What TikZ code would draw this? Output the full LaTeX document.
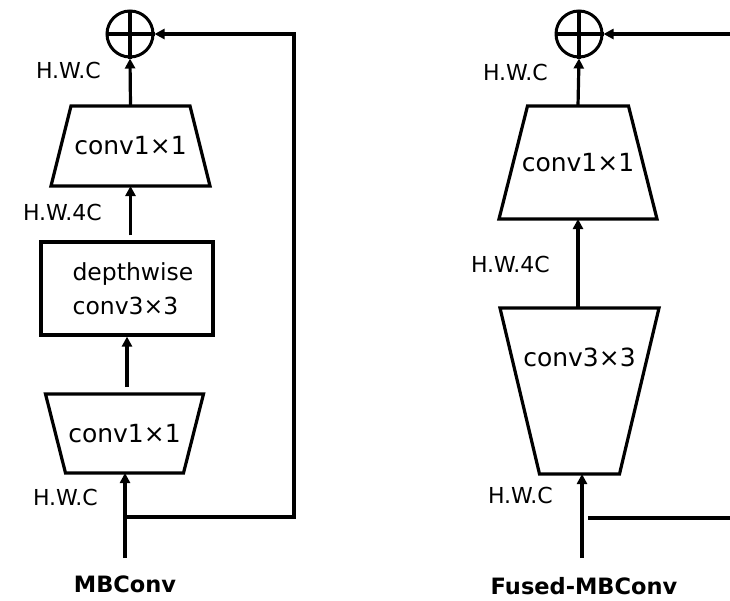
\documentclass[tikz,border=0pt]{standalone}
\usepackage{fontspec}
\setmainfont{DejaVu Sans}
\usepackage{tikz}
\usetikzlibrary{arrows.meta,positioning,calc}
\tikzset{
  mbbox/.style={draw=black, line width=3.2pt, fill=white, align=left, inner sep=0pt, minimum width=172pt, minimum height=93pt},
  mbtrap/.style={inner sep=0pt, outer sep=0pt},
  mbedge/.style={draw=black, line width=3.2pt, line join=miter},
  mbsum/.style={draw=black, circle, line width=3pt, minimum size=46pt, inner sep=0pt},
  mbline/.style={-{Triangle[length=10pt,width=10pt]}, line width=3.2pt},
  mbplain/.style={line width=3.2pt},
  mblabel/.style={font=\fontsize{22}{26}\selectfont, inner sep=0pt, anchor=east},
  mbconv/.style={font=\fontsize{25}{30}\selectfont},
  mbtitle/.style={font=\fontsize{22.5}{27}\selectfont\bfseries, inner sep=0pt}
}
\begin{document}
\begin{tikzpicture}[x=1pt, y=-1pt]
  \useasboundingbox (0,0) rectangle (730,600);
  % MBConv
  \node[mbsum] (sumA) at (130,34) {};
  \draw[mbplain] (sumA.north) -- (sumA.south) (sumA.west) -- (sumA.east);
  \node[mbtrap, mbconv, minimum width=159pt, minimum height=80pt] (outA) at (130.5,146) {conv1×1};
  \draw[mbedge] ([xshift=20pt]outA.north west) -- ([xshift=-20pt]outA.north east) -- (outA.south east) -- (outA.south west) -- cycle;
  \node[mbbox, font=\fontsize{23.5}{34}\selectfont] (dwA) at (127,288.5) {\hspace*{12pt}depthwise\\\hspace*{12pt}conv3×3};
  \node[mbtrap, mbconv, minimum width=158pt, minimum height=79pt] (inA) at (124.5,433.5) {conv1×1};
  \draw[mbedge] (inA.north west) -- (inA.north east) -- ([xshift=-20pt]inA.south east) -- ([xshift=20pt]inA.south west) -- cycle;
  \node[mblabel] (hwcA) at (101,70) {H.W.C};
  \node[mblabel] (hw4cA) at (102,212) {H.W.4C};
  \node[mblabel] (hwcA2) at (98,497) {H.W.C};
  \node[mbtitle] (titleA) at (125,584) {MBConv};
  \coordinate (srcA) at (125,558);
  \coordinate (tapA) at (125,517);
  \coordinate (cornA) at (294,517);
  \coordinate (topA) at (294,34);
  \draw[mbline] (srcA) -- (srcA |- inA.south);
  \draw[mbline, shorten <=7pt] (dwA.south |- inA.north) -- (dwA.south);
  \draw[mbline, shorten <=5pt] (outA.south |- dwA.north) -- (outA.south);
  \draw[mbline] (outA.north) -- (sumA.south);
  \draw[mbline] (tapA) -- (cornA) -- (topA) -- (sumA.east);
  % Fused-MBConv
  \node[mbsum] (sumB) at (579,34) {};
  \draw[mbplain] (sumB.north) -- (sumB.south) (sumB.west) -- (sumB.east);
  \node[mbtrap, mbconv, minimum width=158pt, minimum height=113pt] (outB) at (578,162.5) {conv1×1};
  \draw[mbedge] ([xshift=28.5pt]outB.north west) -- ([xshift=-28.5pt]outB.north east) -- (outB.south east) -- (outB.south west) -- cycle;
  \node[mbtrap, minimum width=159pt, minimum height=166pt, label={[mbconv, yshift=34pt]center:conv3×3}] (inB) at (579.5,391) {};
  \draw[mbedge] (inB.north west) -- (inB.north east) -- ([xshift=-39.5pt]inB.south east) -- ([xshift=39.5pt]inB.south west) -- cycle;
  \node[mblabel] (hwcB) at (548,72) {H.W.C};
  \node[mblabel] (hw4cB) at (550,264) {H.W.4C};
  \node[mblabel] (hwcB2) at (553,495) {H.W.C};
  \node[mbtitle] (titleB) at (584,586) {Fused-MBConv};
  \coordinate (srcB) at (582,558);
  \coordinate (tapB) at (588,518);
  \coordinate (edgeB) at (730,518);
  \coordinate (topB) at (730,34);
  \draw[mbline] (srcB) -- (srcB |- inB.south);
  \draw[mbline] (outB.south |- inB.north) -- (outB.south);
  \draw[mbline] (outB.north) -- (sumB.south);
  \draw[mbplain] (tapB) -- (edgeB);
  \draw[mbline] (topB) -- (sumB.east);
\end{tikzpicture}
\end{document}
